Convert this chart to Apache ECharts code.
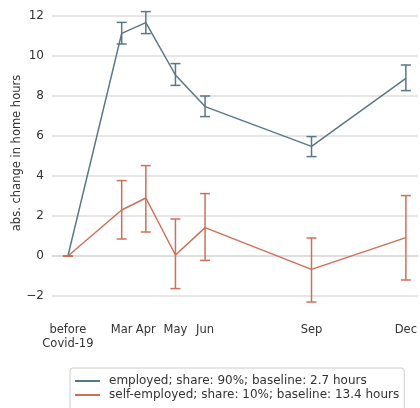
<!DOCTYPE html>
<html>
<head>
<meta charset="utf-8">
<script src="https://cdn.jsdelivr.net/npm/echarts@6/dist/echarts.min.js"></script>
<style>html,body{margin:0;padding:0;background:#fff}#c{width:420px;height:408px}</style>
</head>
<body>
<div id="c"></div>
<script>
// x positions are approximate survey dates (day of year)
var xDays = [30, 79, 101, 128, 155, 252, 338];
var xLabels = ['before\nCovid-19', 'Mar', 'Apr', 'May', 'Jun', 'Sep', 'Dec'];
var yTicks = [-2, 0, 2, 4, 6, 8, 10, 12];

var empMean = [0, 11.13, 11.67, 9.05, 7.47, 5.48, 8.88];
var empLow  = [0, 10.6, 11.12, 8.53, 6.97, 4.97, 8.27];
var empHigh = [0, 11.68, 12.22, 9.62, 8.0, 5.97, 9.55];

var selfMean = [0, 2.3, 2.9, 0.05, 1.42, -0.67, 0.92];
var selfLow  = [0, 0.85, 1.2, -1.63, -0.22, -2.3, -1.2];
var selfHigh = [0, 3.77, 4.52, 1.85, 3.12, 0.9, 3.02];

var empName = 'employed; share: 90%; baseline: 2.7 hours';
var selfName = 'self-employed; share: 10%; baseline: 13.4 hours';
var empColor = '#587887';
var selfColor = '#d06f58';
var FONT = 'DejaVu Sans';

function pairs(xs, ys) { return xs.map(function (x, i) { return [x, ys[i]]; }); }
function triples(xs, lo, hi) { return xs.map(function (x, i) { return [x, lo[i], hi[i]]; }); }

function errRender(color) {
  return function (params, api) {
    var x = api.value(0);
    var p1 = api.coord([x, api.value(1)]);
    var p2 = api.coord([x, api.value(2)]);
    var hw = 5;
    var st = { stroke: color, lineWidth: 1.5 };
    return {
      type: 'group',
      children: [
        { type: 'line', shape: { x1: p1[0], y1: p1[1], x2: p2[0], y2: p2[1] }, style: st },
        { type: 'line', shape: { x1: p1[0] - hw, y1: p1[1], x2: p1[0] + hw, y2: p1[1] }, style: st },
        { type: 'line', shape: { x1: p2[0] - hw, y1: p2[1], x2: p2[0] + hw, y2: p2[1] }, style: st }
      ]
    };
  };
}

var chart = echarts.init(document.getElementById('c'), null, { renderer: 'canvas' });
chart.setOption({
  animation: false,
  textStyle: { fontFamily: FONT },
  grid: { left: 52, right: 0, top: 6, bottom: 92 },
  xAxis: {
    type: 'value', min: 15.5, max: 349,
    axisLine: { show: true, lineStyle: { color: '#dcdcdc', width: 1.5 } },
    axisTick: { show: false, customValues: xDays },
    splitLine: { show: false },
    axisLabel: {
      customValues: xDays, margin: 7,
      color: '#333', fontSize: 11.5, fontFamily: FONT, lineHeight: 14,
      formatter: function (v) { var i = xDays.indexOf(v); return i >= 0 ? xLabels[i] : ''; }
    }
  },
  yAxis: {
    type: 'value', min: -3, max: 12.5,
    axisLine: { show: false },
    axisTick: { show: false, customValues: yTicks },
    splitLine: { show: true, lineStyle: { color: '#dedede', width: 1.5 } },
    axisLabel: {
      customValues: yTicks, margin: 8,
      color: '#333', fontSize: 12, fontFamily: FONT,
      formatter: function (v) { return v < 0 ? '\u2212' + Math.abs(v) : String(v); }
    }
  },
  legend: {
    left: 70, top: 368, height: 120, orient: 'vertical',
    padding: [6, 5, 12, 5],
    itemGap: 0, itemWidth: 25, itemHeight: 2,
    borderColor: '#cccccc', borderWidth: 1, borderRadius: 3,
    icon: 'rect',
    textStyle: { color: '#333', fontSize: 12, fontFamily: FONT, lineHeight: 14, padding: [0, 0, 0, 4] },
    data: [{ name: empName }, { name: selfName }]
  },
  graphic: [{
    type: 'text', x: 17, y: 153, rotation: Math.PI / 2,
    style: { text: 'abs. change in home hours', fill: '#333', font: '11.5px "DejaVu Sans"', align: 'center', verticalAlign: 'middle' }
  }],
  series: [
    { name: empName, type: 'line', data: pairs(xDays, empMean), symbol: 'none', color: empColor,
      lineStyle: { color: empColor, width: 1.5 }, z: 3 },
    { name: empName, type: 'custom', data: triples(xDays, empLow, empHigh), renderItem: errRender(empColor),
      encode: { x: 0, y: [1, 2] }, z: 3, color: empColor },
    { name: selfName, type: 'line', data: pairs(xDays, selfMean), symbol: 'none', color: selfColor,
      lineStyle: { color: selfColor, width: 1.5 }, z: 4 },
    { name: selfName, type: 'custom', data: triples(xDays, selfLow, selfHigh), renderItem: errRender(selfColor),
      encode: { x: 0, y: [1, 2] }, z: 4, color: selfColor }
  ]
});
</script>
</body>
</html>
